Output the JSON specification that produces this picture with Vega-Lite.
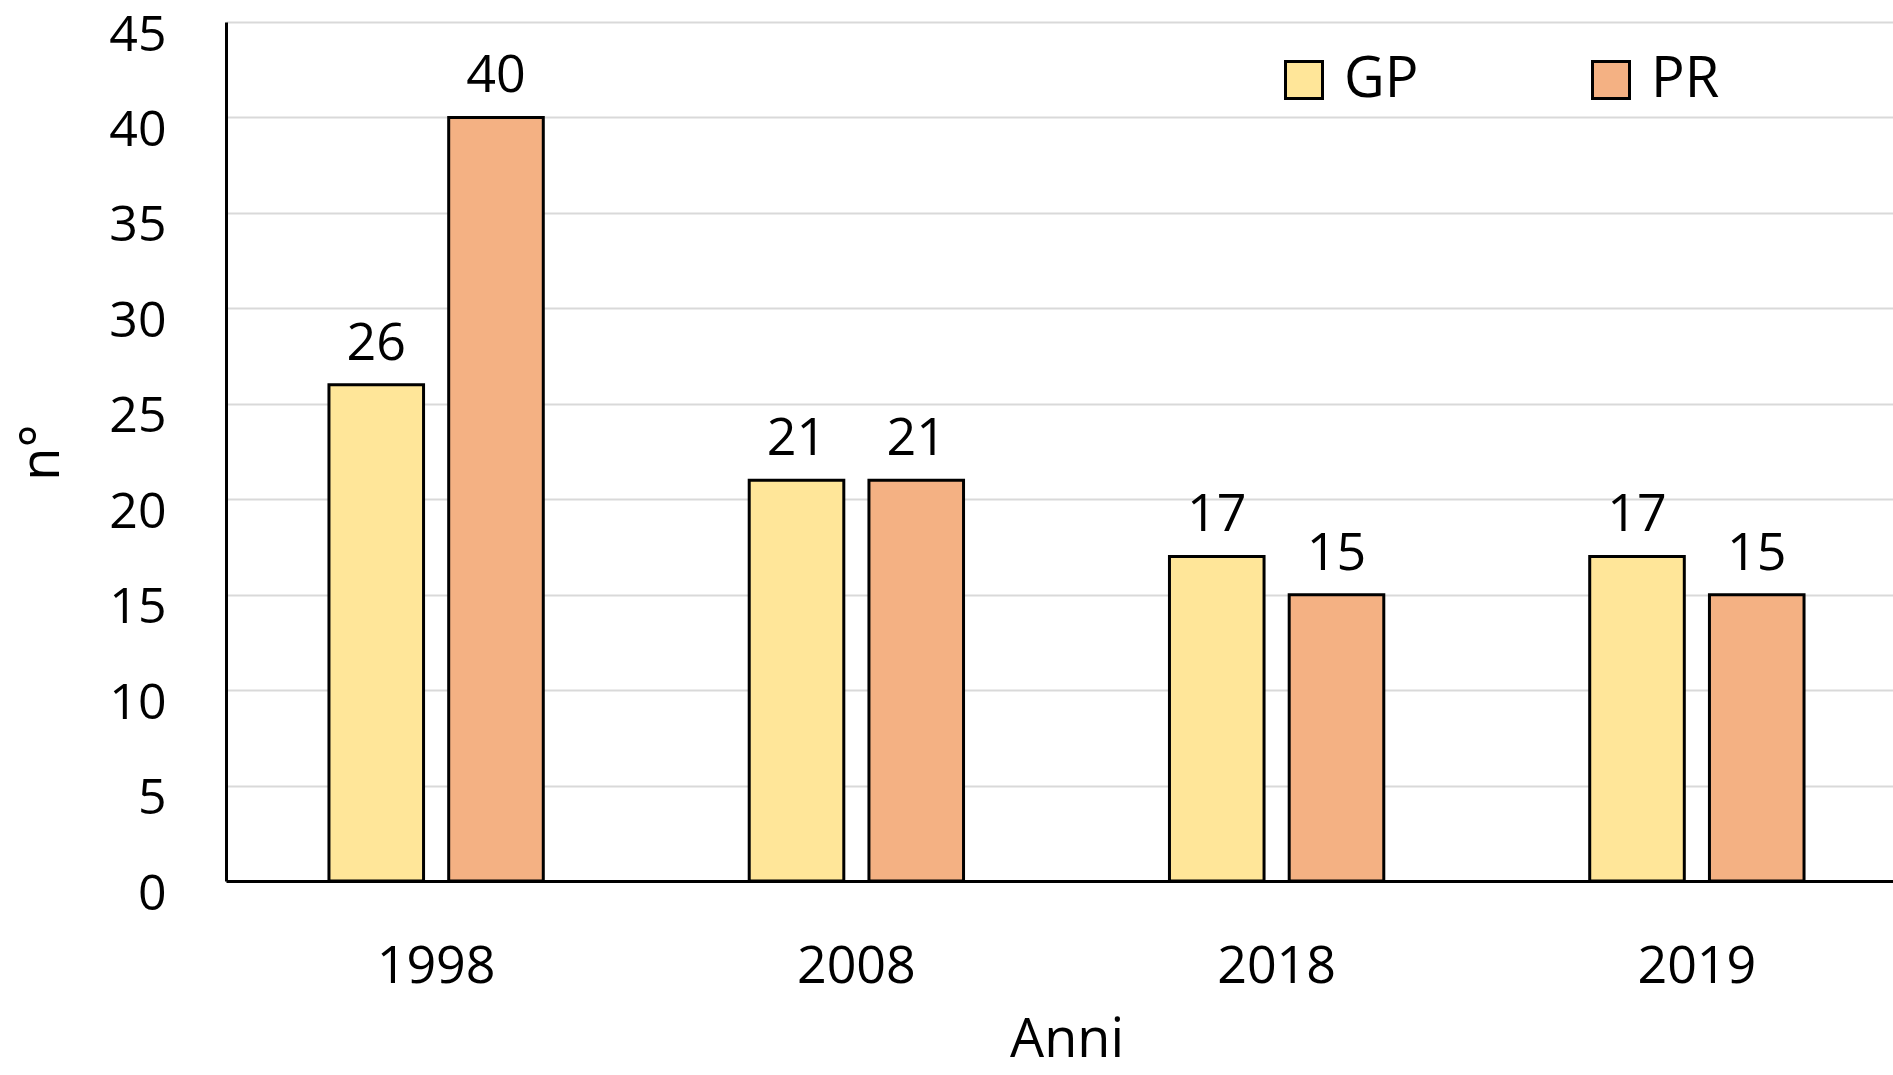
{
  "$schema": "https://vega.github.io/schema/vega-lite/v6.json",
  "width": 1667,
  "height": 859,
  "autosize": {"type": "none"},
  "padding": {"left": 226, "top": 22, "right": 0, "bottom": 194},
  "background": "white",
  "config": {"view": {"stroke": null}, "font": "Open Sans"},
  "data": {
    "values": [
      {"anno": "1998", "serie": "GP", "n": 26},
      {"anno": "1998", "serie": "PR", "n": 40},
      {"anno": "2008", "serie": "GP", "n": 21},
      {"anno": "2008", "serie": "PR", "n": 21},
      {"anno": "2018", "serie": "GP", "n": 17},
      {"anno": "2018", "serie": "PR", "n": 15},
      {"anno": "2019", "serie": "GP", "n": 17},
      {"anno": "2019", "serie": "PR", "n": 15}
    ]
  },
  "encoding": {
    "x": {
      "field": "anno",
      "type": "nominal",
      "scale": {"range": [0, 1681], "paddingInner": 0.49, "paddingOuter": 0.245},
      "axis": {
        "labelAngle": 0,
        "domainColor": "black",
        "domainWidth": 3,
        "ticks": false,
        "tickSize": 0,
        "labelFontSize": 52,
        "labelColor": "black",
        "labelPadding": 60,
        "title": "Anni",
        "titleFontSize": 54,
        "titleFontWeight": "normal",
        "titleColor": "black",
        "titleY": 175,
        "titleBaseline": "alphabetic",
        "grid": false
      }
    },
    "xOffset": {"field": "serie", "type": "nominal", "scale": {"paddingInner": 0.21, "paddingOuter": 0}},
    "y": {
      "field": "n",
      "type": "quantitative",
      "scale": {"domain": [0, 45]},
      "axis": {
        "values": [0, 5, 10, 15, 20, 25, 30, 35, 40, 45],
        "grid": true,
        "gridColor": "#d9d9d9",
        "gridWidth": 2,
        "domainColor": "black",
        "domainWidth": 3,
        "ticks": false,
        "tickSize": 0,
        "labelFontSize": 50,
        "labelColor": "black",
        "labelPadding": 60,
        "labelOffset": 13,
        "title": "n°",
        "titleFontSize": 54,
        "titleFontWeight": "normal",
        "titleColor": "black",
        "titleAngle": -90,
        "titleX": -184,
        "titleY": 430,
        "titleBaseline": "middle",
        "titleAlign": "center"
      }
    }
  },
  "layer": [
    {
      "mark": {"type": "bar", "stroke": "black", "strokeWidth": 3},
      "encoding": {
        "color": {
          "field": "serie",
          "type": "nominal",
          "scale": {"domain": ["GP", "PR"], "range": ["#FFE699", "#F4B183"]},
          "legend": {
            "title": null,
            "orient": "none",
            "legendX": 1050,
            "legendY": 30,
            "direction": "horizontal",
            "columns": 2,
            "padding": 0,
            "symbolType": "square",
            "symbolSize": 1369,
            "symbolStrokeColor": "black",
            "symbolStrokeWidth": 3,
            "symbolOpacity": 1,
            "labelFontSize": 56,
            "labelColor": "black",
            "labelOffset": 12,
            "columnPadding": 164
          }
        }
      }
    },
    {
      "mark": {"type": "text", "dy": -25, "baseline": "alphabetic", "fontSize": 52, "color": "black"},
      "encoding": {"text": {"field": "n", "type": "quantitative"}}
    }
  ]
}
